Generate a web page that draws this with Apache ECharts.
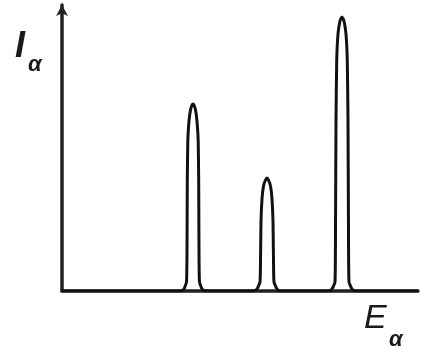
<!DOCTYPE html>
<html>
<head>
<meta charset="utf-8">
<script src="https://cdn.jsdelivr.net/npm/echarts@6/dist/echarts.min.js"></script>
<style>html,body{margin:0;padding:0;background:#fff;}#c{width:421px;height:346px;}</style>
</head>
<body>
<div id="c"></div>
<script>
// Energy (arbitrary units) vs intensity (arbitrary units)
const peak1 = [[119,0],[122,2],[124.5,9],[125,40],[125.3,110],[125.8,150],[127,170],[128.5,181],[130,186],[131,187],[132,186],[133.5,181],[135,170],[136.2,150],[136.7,110],[137,40],[137.5,9],[140,2],[143,0]];
const peak2 = [[192,0],[195,2],[198,9],[198.5,30],[199,70],[200,92],[201.5,105],[203.5,111],[205,113],[206.5,111],[208.5,105],[210,92],[211,70],[211.5,30],[212,9],[215,2],[218,0]];
const peak3 = [[267,0],[270,2],[273,9],[273.5,60],[274,170],[274.7,230],[276,257],[278,270],[280,274],[282,270],[284,257],[285.3,230],[286,170],[286.5,60],[287,9],[290,2],[293,0]];
const xRange = [0, 356];
const yRange = [0, 286];
const yLabel = ['I', 'α'];
const xLabel = ['E', 'α'];

const spectrum = [[xRange[0],0]].concat(peak1, peak2, peak3, [[xRange[1],0]]);

const chart = echarts.init(document.getElementById('c'));
chart.setOption({
  animation: false,
  grid: {left: 62, right: 3, top: 5, bottom: 55},
  xAxis: {
    type: 'value', min: xRange[0], max: xRange[1],
    axisLine: {show: true, lineStyle: {color: '#222', width: 3.5}},
    axisTick: {show: false}, axisLabel: {show: false}, splitLine: {show: false}
  },
  yAxis: {
    type: 'value', min: yRange[0], max: yRange[1],
    axisLine: {show: true, symbol: ['none', 'arrow'], symbolSize: [9, 11], lineStyle: {color: '#222', width: 3.5}},
    axisTick: {show: false}, axisLabel: {show: false}, splitLine: {show: false}
  },
  series: [{
    type: 'line', data: spectrum, showSymbol: false, smooth: 0.15,
    lineStyle: {color: '#111', width: 3}
  }],
  graphic: [
    {type: 'text', left: 15, top: 29, style: {text: yLabel[0], font: 'italic 600 36px "Liberation Sans"', fill: '#1a1a1a'}},
    {type: 'text', left: 28, top: 54, style: {text: yLabel[1], font: 'italic bold 22px "Liberation Sans"', fill: '#1a1a1a'}},
    {type: 'text', left: 364, top: 302, style: {text: xLabel[0], font: 'italic 34px "Liberation Sans"', fill: '#1a1a1a'}},
    {type: 'text', left: 389, top: 329, style: {text: xLabel[1], font: 'italic bold 22px "Liberation Sans"', fill: '#1a1a1a'}}
  ]
});
</script>
</body>
</html>
